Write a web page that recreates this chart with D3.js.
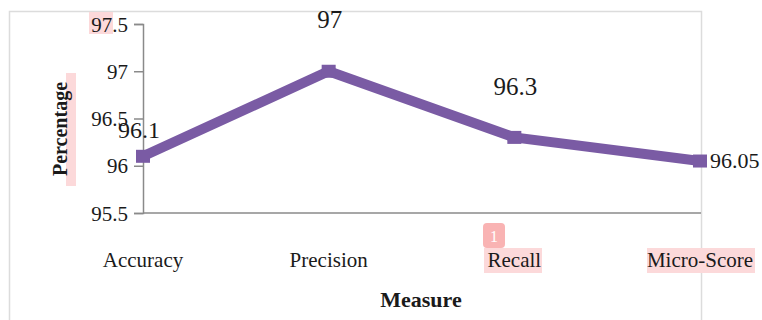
<!DOCTYPE html>
<html>
<head>
<meta charset="utf-8">
<script src="https://cdn.jsdelivr.net/npm/d3@7"></script>
<style>
  html, body { margin: 0; padding: 0; background: #fff; }
  svg { display: block; }
  text { font-family: "Liberation Serif", "Times New Roman", serif; fill: #1a1a1a; }
</style>
</head>
<body>
<svg id="chart" width="762" height="320"></svg>
<script>
// Scores per measure
const measures = ["Accuracy", "Precision", "Recall", "Micro-Score"];
const scores = [96.1, 97, 96.3, 96.05];
const yTicks = [95.5, 96, 96.5, 97, 97.5];

const svg = d3.select("#chart");
const W = 762, H = 320;
const plot = { left: 143, right: 700, top: 24, bottom: 213 };

// Outer chart frame
svg.append("rect")
  .attr("x", 9.5).attr("y", 11.5)
  .attr("width", 692).attr("height", 330)
  .attr("fill", "none").attr("stroke", "#dcdcdc").attr("stroke-width", 1.5);

const x = d3.scalePoint().domain(measures).range([plot.left, plot.right]).padding(0);
const y = d3.scaleLinear().domain([95.5, 97.5]).range([plot.bottom, plot.top]);

// Highlight boxes behind some labels
const hl = "#fcd9da";
svg.append("rect").attr("x", 89).attr("y", 12).attr("width", 24).attr("height", 22).attr("fill", hl);
svg.append("rect").attr("x", 66).attr("y", 73).attr("width", 10).attr("height", 113).attr("fill", hl);

// Y axis
const yAxis = svg.append("g")
  .attr("transform", `translate(${plot.left},0)`)
  .call(d3.axisLeft(y).tickValues(yTicks).tickSize(9).tickPadding(6)
    .tickFormat(d => String(d)));
yAxis.select(".domain").attr("stroke", "#8a8a8a").attr("stroke-width", 1.5);
yAxis.selectAll(".tick line").attr("stroke", "#8a8a8a").attr("stroke-width", 1.5);
yAxis.selectAll(".tick text")
  .attr("font-family", "Liberation Serif, serif")
  .attr("font-size", 21).attr("fill", "#1a1a1a").attr("dy", "0.34em");

// X axis baseline
svg.append("line")
  .attr("x1", plot.left).attr("x2", 701)
  .attr("y1", plot.bottom).attr("y2", plot.bottom)
  .attr("stroke", "#8a8a8a").attr("stroke-width", 1.5);

// Category label highlights
const catHl = { "Recall": [484, 58], "Micro-Score": [647, 108] };
Object.entries(catHl).forEach(([k, v]) => {
  svg.append("rect").attr("x", v[0]).attr("y", 248).attr("width", v[1]).attr("height", 25).attr("fill", hl);
});

// Category labels
svg.append("g").selectAll("text")
  .data(measures).join("text")
  .attr("x", d => x(d)).attr("y", 267)
  .attr("text-anchor", "middle").attr("font-size", 21)
  .text(d => d);

// Small badge
svg.append("rect").attr("x", 483).attr("y", 223).attr("width", 22).attr("height", 25)
  .attr("rx", 4).attr("fill", "#f9b3b3");
svg.append("text").attr("x", 494).attr("y", 242).attr("text-anchor", "middle")
  .attr("font-family", "DejaVu Sans, sans-serif").attr("font-size", 16)
  .style("fill", "#fff").text("1");

// Axis titles
svg.append("text")
  .attr("x", 421).attr("y", 307).attr("text-anchor", "middle")
  .attr("font-size", 22).attr("font-weight", "bold").text("Measure");
svg.append("text")
  .attr("transform", "translate(67,129) rotate(-90)")
  .attr("text-anchor", "middle").attr("font-size", 20).attr("font-weight", "bold")
  .text("Percentage");

// Line
const purple = "#7a5ba4";
const pts = measures.map((m, i) => ({ m, v: scores[i] }));
svg.append("path")
  .datum(pts)
  .attr("fill", "none").attr("stroke", purple).attr("stroke-width", 10)
  .attr("stroke-linejoin", "miter")
  .attr("d", d3.line().x(d => x(d.m)).y(d => y(d.v)));

// Square markers
svg.append("g").selectAll("rect")
  .data(pts).join("rect")
  .attr("x", d => x(d.m) - 7).attr("y", d => y(d.v) - 6.5)
  .attr("width", 14).attr("height", 13).attr("fill", purple);

// Value labels
const labelPos = [
  { dx: -4, dy: -18, anchor: "middle", size: 24 },
  { dx: 1, dy: -43, anchor: "middle", size: 25 },
  { dx: 1, dy: -42, anchor: "middle", size: 25 },
  { dx: 10, dy: 7, anchor: "start", size: 22 }
];
svg.append("g").selectAll("text")
  .data(pts).join("text")
  .attr("x", (d, i) => x(d.m) + labelPos[i].dx)
  .attr("y", (d, i) => y(d.v) + labelPos[i].dy)
  .attr("text-anchor", (d, i) => labelPos[i].anchor)
  .attr("font-size", (d, i) => labelPos[i].size)
  .text(d => String(d.v));
</script>
</body>
</html>
